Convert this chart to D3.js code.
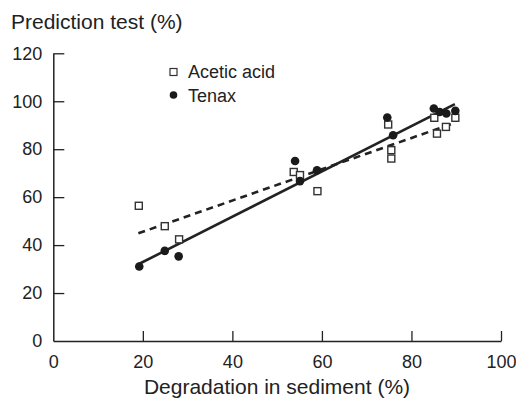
<!DOCTYPE html>
<html><head><meta charset="utf-8">
<script src="https://cdn.jsdelivr.net/npm/d3@7"></script>
<style>body{margin:0;background:#fff}svg{display:block;font-family:"Liberation Sans",Arial,sans-serif}</style>
</head><body>
<svg id="c" width="516" height="398"></svg>
<script>
const aceticX = [19.1, 24.9, 28.1, 53.7, 55.1, 59.0, 74.8, 75.5, 75.5, 85.1, 85.7, 87.7, 89.8];
const aceticY = [56.4, 47.9, 42.4, 70.5, 69.2, 62.5, 90.3, 79.6, 76.1, 93.1, 86.5, 89.3, 93.1];
const tenaxX = [19.2, 24.9, 28.0, 54.0, 55.1, 58.9, 74.6, 75.9, 85.0, 86.3, 87.8, 89.8];
const tenaxY = [31.1, 37.6, 35.3, 75.1, 66.7, 71.2, 93.2, 85.8, 97.0, 95.5, 94.9, 96.0];
const fitX = [19, 89.7];
const tenaxFit = [32.0, 98.8];
const aceticFit = [44.9, 91.0];
const xTicks = [0, 20, 40, 60, 80, 100];
const yTicks = [0, 20, 40, 60, 80, 100, 120];
const seriesNames = ["Acetic acid", "Tenax"];

const svg = d3.select("#c");
const x = d3.scaleLinear().domain([0, 100]).range([53.3, 501]);
const y = d3.scaleLinear().domain([0, 120]).range([341, 53.3]);
const ink = "#222";

const xa = svg.append("g").attr("transform", `translate(0,${y(0)})`)
  .call(d3.axisBottom(x).tickValues(xTicks).tickSize(-10).tickSizeOuter(0).tickPadding(14));
const ya = svg.append("g").attr("transform", `translate(${x(0)},0)`)
  .call(d3.axisLeft(y).tickValues(yTicks).tickSize(-11).tickSizeOuter(0).tickPadding(11));
[xa, ya].forEach(g => {
  g.select(".domain").attr("stroke", ink).attr("stroke-width", 1.5);
  g.selectAll(".tick line").attr("stroke", ink).attr("stroke-width", 1.3);
  g.selectAll(".tick text").attr("font-size", 18).attr("fill", ink).attr("font-family", "Liberation Sans, Arial, sans-serif");
});
ya.selectAll(".tick").filter(d => d === 0).select("line").remove();
xa.selectAll(".tick").filter(d => d === 0).select("line").remove();

// fit lines
const line = d3.line().x(d => x(d[0])).y(d => y(d[1]));
svg.append("path").datum(fitX.map((v, i) => [v, aceticFit[i]]))
  .attr("d", line).attr("stroke", ink).attr("stroke-width", 2.6).attr("fill", "none")
  .attr("stroke-dasharray", "7,5");
svg.append("path").datum(fitX.map((v, i) => [v, tenaxFit[i]]))
  .attr("d", line).attr("stroke", ink).attr("stroke-width", 2.6).attr("fill", "none");

// points
const s = 7;
svg.append("g").selectAll("rect").data(aceticX.map((v, i) => [v, aceticY[i]])).join("rect")
  .attr("x", d => x(d[0]) - s / 2).attr("y", d => y(d[1]) - s / 2)
  .attr("width", s).attr("height", s).attr("fill", "#fff").attr("stroke", "#333").attr("stroke-width", 1.4);
svg.append("g").selectAll("circle").data(tenaxX.map((v, i) => [v, tenaxY[i]])).join("circle")
  .attr("cx", d => x(d[0])).attr("cy", d => y(d[1])).attr("r", 4.3).attr("fill", "#1a1a1a");

// legend
svg.append("rect").attr("x", 170).attr("y", 68.5).attr("width", 7).attr("height", 7)
  .attr("fill", "#fff").attr("stroke", "#333").attr("stroke-width", 1.2);
svg.append("circle").attr("cx", 173.5).attr("cy", 95).attr("r", 3.8).attr("fill", "#1a1a1a");
svg.append("text").attr("x", 188).attr("y", 78).attr("font-size", 18).attr("fill", ink).text(seriesNames[0]);
svg.append("text").attr("x", 188).attr("y", 102).attr("font-size", 18).attr("fill", ink).text(seriesNames[1]);

// titles
svg.append("text").attr("x", 11).attr("y", 29).attr("font-size", 21).attr("fill", ink).text("Prediction test (%)");
svg.append("text").attr("x", 277).attr("y", 394).attr("text-anchor", "middle").attr("font-size", 21).attr("fill", ink).text("Degradation in sediment (%)");
</script>
</body></html>
